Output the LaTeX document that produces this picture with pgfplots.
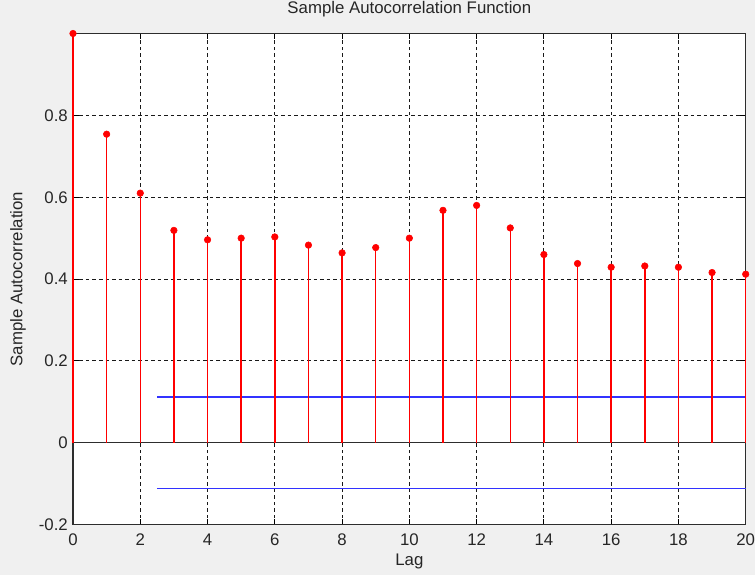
\documentclass[border=0pt]{standalone}
\usepackage{fontspec}
\setmainfont{Liberation Sans}
\usepackage{pgfplots}
\pgfplotsset{compat=1.18}
\definecolor{figbg}{RGB}{240,240,240}
\definecolor{boxcol}{RGB}{45,45,45}
\definecolor{confblue}{RGB}{50,50,255}
\begin{document}
\fontsize{16.8}{19}\selectfont
\begin{tikzpicture}
\fill[figbg] (0pt,0pt) rectangle (755pt,575pt);
\begin{axis}[
  at={(73pt,50.3pt)}, anchor=south west,
  scale only axis, width=672.7pt, height=491.2pt,
  xmin=0, xmax=20, ymin=-0.2, ymax=1,
  axis background/.style={fill=white},
  axis line style={boxcol, line width=1.3pt},
  xtick={0,2,...,20},
  ytick={-0.2,0,0.2,0.4,0.6,0.8},
  yticklabels={-0.2,0,0.2,0.4,0.6,0.8},
  xticklabels={0,2,4,6,8,10,12,14,16,18,20},
  tick align=inside, major tick length=6pt,
  tick style={black, line width=1pt},
  xtick pos=both, ytick pos=both,
  grid=major,
  grid style={black!90, line width=1pt, dash pattern=on 3.5pt off 3pt},
  xticklabel style={anchor=base, yshift=-21pt, inner sep=0pt, text=black!85},
  yticklabel style={anchor=east, xshift=-5pt, inner sep=0pt, text=black!85},
  title={Sample Autocorrelation Function},
  title style={at={(axis description cs:0.5,1.0377)}, anchor=center, inner sep=0pt, text=black!85},
  xlabel={Lag},
  xlabel style={at={(axis description cs:0.5,-0.0753)}, anchor=center, inner sep=0pt, text=black!85},
  ylabel={Sample Autocorrelation},
  ylabel style={at={(axis description cs:-0.0818,0.5)}, anchor=center, rotate=0, inner sep=0pt, text=black!85},
  clip=false,
]
\addplot[confblue, line width=1.5pt] coordinates {(2.5,0.1115) (20,0.1115)};
\addplot[confblue, line width=1.5pt] coordinates {(2.5,-0.111) (20,-0.111)};
\addplot[boxcol, line width=1.3pt] coordinates {(0,0) (20,0)};
\addplot[red, line width=1.5pt, ycomb, mark=*, mark size=3.3pt, mark options={fill=red, draw=red, line width=0.5pt}] coordinates {
(0,1.000) (1,0.754) (2,0.610) (3,0.519) (4,0.496) (5,0.500) (6,0.503)
(7,0.483) (8,0.464) (9,0.477) (10,0.500) (11,0.568) (12,0.580) (13,0.525)
(14,0.460) (15,0.438) (16,0.429) (17,0.432) (18,0.429) (19,0.416) (20,0.412)};
\end{axis}
\pgfresetboundingbox
\path[use as bounding box] (0pt,0pt) rectangle (755pt,575pt);
\end{tikzpicture}
\end{document}
